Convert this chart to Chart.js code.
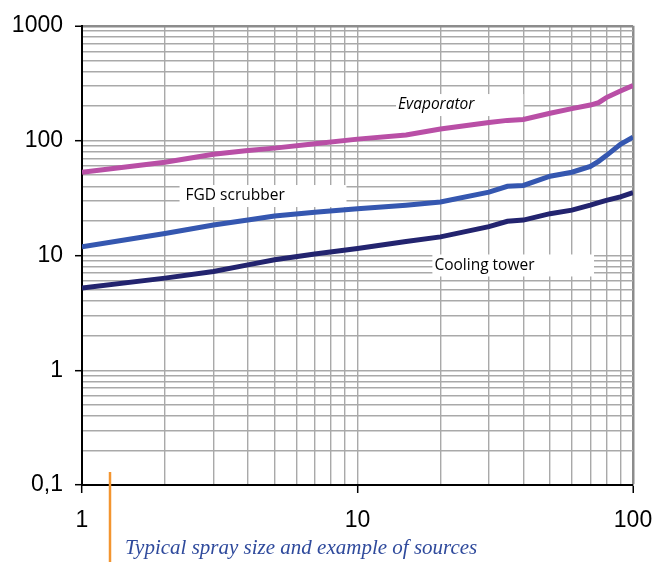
<!DOCTYPE html>
<html><head><meta charset="utf-8">
<script src="https://cdn.jsdelivr.net/npm/chart.js@4.4.1/dist/chart.umd.min.js"></script>
<style>html,body{margin:0;padding:0;background:#fff;}</style>
</head><body>
<canvas id="c" width="667" height="562"></canvas>
<script>
// ---- data ----
const xValues      = [1, 2, 3, 4, 5, 7, 10, 15, 20, 30, 35, 40, 50, 60, 70, 75, 80, 90, 100];
const evaporator   = [53, 64.7, 76, 82, 86, 94, 103, 112, 126, 144, 150, 153, 173, 190, 204, 214, 237, 270, 302];
const fgdScrubber  = [11.9, 15.5, 18.4, 20.3, 22, 23.8, 25.5, 27.4, 29.2, 35.6, 40, 40.7, 49, 53, 59.5, 66, 74, 93, 107];
const coolingTower = [5.19, 6.34, 7.24, 8.27, 9.15, 10.3, 11.5, 13.2, 14.5, 17.8, 19.8, 20.3, 23.1, 24.8, 27.4, 28.8, 30.2, 32.3, 35.2];
const seriesNames  = ['Evaporator', 'FGD scrubber', 'Cooling tower'];
const xMajorValues = [1, 10, 100];
const xTickLabels  = ['1', '10', '100'];
const yMajorValues = [0.1, 1, 10, 100, 1000];
const yTickLabels  = ['0,1', '1', '10', '100', '1000'];
const caption      = 'Typical spray size and example of sources';

// ---- styling / annotation placement (data coordinates) ----
const seriesColors = ['#b94fa6', '#3557b0', '#23246f'];
const labelBoxes = [
  {name: 0, x0: 13.8, x1: 40,   y: 204,  italic: true,  pad: 2},
  {name: 1, x0: 2.26, x1: 9.12, y: 32.9, italic: false, pad: 6},
  {name: 2, x0: 18.7, x1: 72.2, y: 8.17, italic: false, pad: 2}
];

function logTicks(min, max) {
  const t = [];
  for (let e = Math.floor(Math.log10(min)); e <= Math.ceil(Math.log10(max)); e++) {
    for (let s = 1; s < 10; s++) {
      const v = +(s * Math.pow(10, e)).toPrecision(6);
      if (v >= min * 0.9999 && v <= max * 1.0001) t.push({value: v, major: s === 1});
    }
  }
  return t;
}
function labelFor(value, majors, labels) {
  for (let i = 0; i < majors.length; i++) if (Math.abs(value / majors[i] - 1) < 1e-6) return labels[i];
  return '';
}
const pts = arr => xValues.map((x, i) => ({x, y: arr[i]}));
const GRID = '#a9a9a9', EDGE = '#8c8c8c';

const annotations = {
  id: 'annotations',
  beforeDatasetsDraw(chart) {
    const ctx = chart.ctx, xs = chart.scales.x, ys = chart.scales.y;
    ctx.save();
    labelBoxes.forEach(b => {
      const l = xs.getPixelForValue(b.x0), r = xs.getPixelForValue(b.x1);
      const cy = ys.getPixelForValue(b.y), h = 22;
      ctx.fillStyle = '#fff';
      ctx.fillRect(l, cy - h / 2, r - l, h);
      ctx.fillStyle = '#000';
      ctx.font = (b.italic ? 'italic ' : '') + '15.5px "Open Sans"';
      ctx.textBaseline = 'middle';
      ctx.textAlign = 'left';
      ctx.fillText(seriesNames[b.name], l + b.pad, cy);
    });
    ctx.restore();
  },
  afterDraw(chart) {
    const ctx = chart.ctx, a = chart.chartArea;
    ctx.save();
    ctx.strokeStyle = '#f39530';
    ctx.lineWidth = 2.5;
    ctx.beginPath();
    ctx.moveTo(a.left + 28, a.bottom - 13);
    ctx.lineTo(a.left + 28, chart.height);
    ctx.stroke();
    ctx.fillStyle = '#2f4a9c';
    ctx.font = 'italic 21px "Liberation Serif"';
    ctx.textBaseline = 'alphabetic';
    ctx.fillText(caption, a.left + 43, 554);
    ctx.restore();
  }
};

new Chart(document.getElementById('c'), {
  type: 'scatter',
  data: {
    datasets: [evaporator, fgdScrubber, coolingTower].map((arr, i) => ({
      label: seriesNames[i],
      data: pts(arr),
      showLine: true,
      borderColor: seriesColors[i],
      backgroundColor: seriesColors[i],
      borderWidth: 5,
      pointRadius: 0,
      tension: 0
    }))
  },
  options: {
    responsive: false,
    animation: false,
    devicePixelRatio: 1,
    layout: {padding: {left: 0, top: 22, right: 34, bottom: 0}},
    plugins: {legend: {display: false}, tooltip: {enabled: false}},
    scales: {
      x: {
        type: 'logarithmic', min: 1, max: 100,
        afterBuildTicks: s => { s.ticks = logTicks(1, 100); },
        afterFit: s => { s.height = 77; },
        border: {color: '#000', width: 2},
        grid: {
          color: c => c.tick.value === 1 ? 'rgba(0,0,0,0)' : (c.tick.value === 100 ? EDGE : GRID),
          lineWidth: c => c.tick.value === 100 ? 2.5 : 1.4,
          tickColor: c => c.tick.major ? '#000' : 'rgba(0,0,0,0)',
          tickWidth: 1.5,
          tickLength: 8
        },
        ticks: {
          autoSkip: false, maxRotation: 0, padding: 14,
          color: '#000', font: {family: '"Liberation Sans", Arial', size: 23},
          callback: v => labelFor(v, xMajorValues, xTickLabels)
        }
      },
      y: {
        type: 'logarithmic', min: 0.1, max: 1000,
        afterBuildTicks: s => { s.ticks = logTicks(0.1, 1000); },
        afterFit: s => { s.width = 82; },
        border: {color: '#000', width: 2},
        grid: {
          color: c => c.tick.value === 0.1 ? 'rgba(0,0,0,0)' : (c.tick.value === 1000 ? EDGE : GRID),
          lineWidth: c => c.tick.value === 1000 ? 2.5 : 1.4,
          tickColor: c => c.tick.major ? '#000' : 'rgba(0,0,0,0)',
          tickWidth: 1.5,
          tickLength: 7
        },
        ticks: {
          autoSkip: false, padding: 12,
          color: '#000', font: {family: '"Liberation Sans", Arial', size: 23},
          callback: v => labelFor(v, yMajorValues, yTickLabels)
        }
      }
    }
  },
  plugins: [annotations]
});
</script>
</body></html>
